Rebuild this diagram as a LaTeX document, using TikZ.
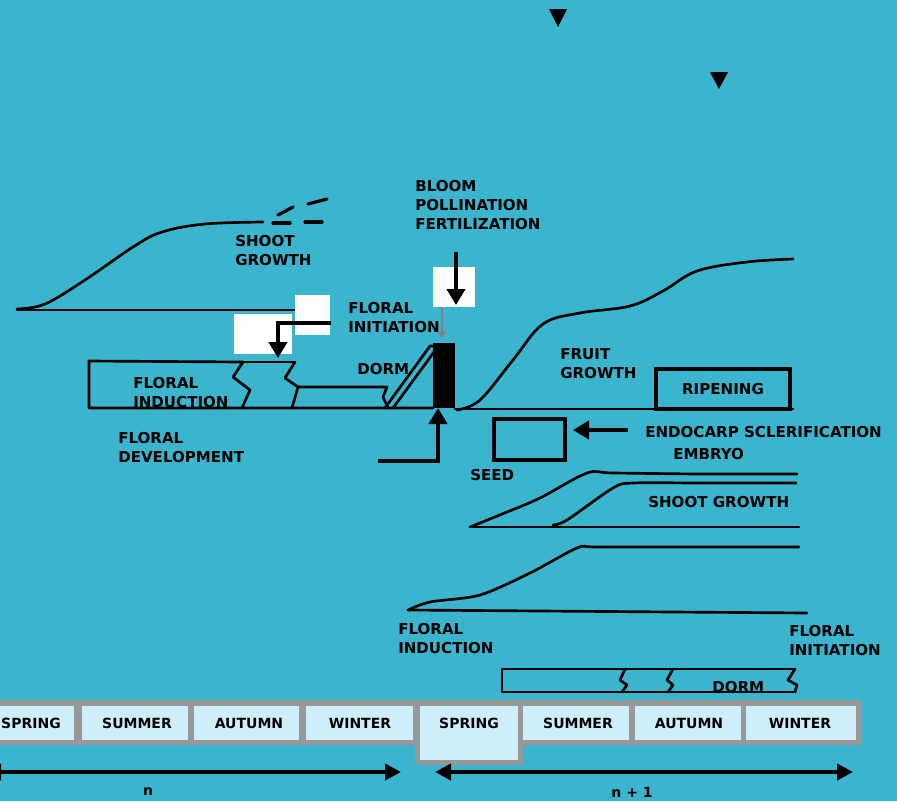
\documentclass[tikz,border=0pt]{standalone}
\usepackage{fontspec}
\setmainfont{DejaVu Sans}
\usetikzlibrary{arrows.meta}
\definecolor{bg}{RGB}{59,180,205}
\definecolor{cellc}{RGB}{206,238,252}
\definecolor{band}{RGB}{152,152,152}
\begin{document}
\begin{tikzpicture}[x=0.75pt,y=-0.75pt,
  lbl/.style={font=\fontsize{11.3}{14.2}\selectfont\bfseries, inner sep=0pt, anchor=north west, align=left},
  slbl/.style={font=\fontsize{10.5}{14.2}\selectfont\bfseries, inner sep=0pt, anchor=center},
  curve/.style={draw=black, line width=2pt, line cap=round, line join=round},
  boxline/.style={draw=black, line width=2.4pt},
  bigarrow/.style={draw=black, line width=3.2pt, -{Triangle[length=12pt,width=13.5pt]}},
  spanarrow/.style={draw=black, line width=3pt, {Triangle[length=12pt,width=12pt]}-{Triangle[length=12pt,width=12pt]}},
  whitebox/.style={fill=white, draw=none}]
\useasboundingbox (0,0) rectangle (897,801);
\clip (0,0) rectangle (897,801);
\fill[bg] (0,0) rectangle (897,801);

% top triangles
\fill[black] (549,9) -- (567,9) -- (558,27) -- cycle;
\fill[black] (710,72) -- (728,72) -- (719,89) -- cycle;

% ---------- year n : shoot growth ----------
\draw[curve] (17,310) -- (300,310);
\draw[curve] plot[smooth, tension=0.6] coordinates {(17,309) (45,304) (85,280) (133,247) (162,232) (205,224) (263,222)};
\draw[curve, line width=2.4pt] (273,223) -- (290,223);
\draw[curve, line width=2.4pt] (305,222) -- (322,222);
\draw[curve, line width=2.4pt] (278,215) -- (293,207);
\draw[curve, line width=2.4pt] (308,204) -- (327,199);

% white boxes
\fill[whitebox] (295,295) rectangle (330,335);
\fill[whitebox] (234,314) rectangle (292,354);
\fill[whitebox] (433,267) rectangle (475,307);

% floral induction / development band
\draw[curve] (243,362) -- (89,361) -- (89,408) -- (433,408);
\draw[curve] (243,362) -- (295,362);
\draw[curve] (243,362) -- (233,377) -- (250,390) -- (242,408);
\draw[curve] (295,362) -- (285,378) -- (298,387) -- (292,408);
\draw[curve] (298,387) -- (387,387) -- (383,397) -- (388,408);
% dormancy ramp
\draw[curve] (385,408) -- (430,346) -- (434,346);
\draw[curve] (393,408) -- (434,352);

% bloom bar
\fill[black] (433,343) rectangle (455,408);

% ---------- year n+1 : fruit ----------
\draw[curve] (455,409) -- (793,409);
\draw[curve] plot[smooth, tension=0.6] coordinates {(457,410) (480,400) (513,360) (543,324) (580,313) (630,306) (663,291) (697,271) (747,262) (793,259)};
\node[boxline, minimum width=100.5pt, minimum height=30pt, inner sep=0pt,
      font=\fontsize{11.3}{14.2}\selectfont\bfseries] (ripe) at (723,389) {RIPENING};
\draw[boxline] (494,419) rectangle (565,460);

% ---------- year n+1 : shoot growth ----------
\draw[curve] (470,527) -- (799,527);
\draw[curve] plot[smooth, tension=0.5] coordinates {(470,527) (507,512) (540,498) (587,473) (613,473) (700,474) (797,474)};
\draw[curve] plot[smooth, tension=0.5] coordinates {(553,525) (567,520) (613,488) (633,483) (700,483) (796,483)};

% ---------- year n+1 : floral ----------
\draw[curve] (408,610) -- (807,613);
\draw[curve] plot[smooth, tension=0.5] coordinates {(408,610) (430,602) (480,595) (530,573) (577,548) (597,547) (700,547) (799,547)};

% dorm band n+1
\draw[curve] (625,669) -- (502,669) -- (502,692) -- (622,692);
\draw[curve] (625,669) -- (795,669);
\draw[curve] (622,692) -- (795,692);
\draw[curve] (625,669) -- (620,680) -- (627,685) -- (622,692);
\draw[curve] (673,669) -- (667,680) -- (673,685) -- (668,692);
\draw[curve] (795,669) -- (788,680) -- (797,685) -- (795,692);

% ---------- arrows ----------
\coordinate (fiA) at (331,323);
\coordinate (fiB) at (278,323);
\coordinate (fiC) at (278,358);
\draw[bigarrow] (fiA) -- (fiB) -- (fiC);

\coordinate (blA) at (456,252);
\coordinate (blB) at (456,305);
\draw[bigarrow] (blA) -- (blB);

\coordinate (gA) at (442,307);
\coordinate (gB) at (442,338);
\draw[draw=gray, line width=1pt, -{Triangle[length=5pt,width=6pt]}] (gA) -- (gB);

\coordinate (lbA) at (378,461);
\coordinate (lbB) at (438,461);
\coordinate (lbC) at (438,408);
\draw[bigarrow] (lbA) -- (lbB) -- (lbC);

\coordinate (enA) at (628,430);
\coordinate (enB) at (573,430);
\draw[bigarrow] (enA) -- (enB);

% ---------- labels ----------
\node[lbl] (bloom) at (415,180) {BLOOM\\POLLINATION\\FERTILIZATION};
\node[lbl] (shootA) at (235,235) {SHOOT\\GROWTH};
\node[lbl] (finit) at (348,302) {FLORAL\\INITIATION};
\node[lbl] (dorm) at (357,363) {DORM};
\node[lbl] (find) at (133,377) {FLORAL\\INDUCTION};
\node[lbl] (fdev) at (118,432) {FLORAL\\DEVELOPMENT};
\node[lbl] (fruit) at (560,348) {FRUIT\\GROWTH};
\node[lbl] (endo) at (645,426) {ENDOCARP SCLERIFICATION};
\node[lbl] (embryo) at (673,448) {EMBRYO};
\node[lbl] (seed) at (470,469) {SEED};
\node[lbl] (shootB) at (648,496) {SHOOT GROWTH};
\node[lbl] (findB) at (398,623) {FLORAL\\INDUCTION};
\node[lbl] (finitB) at (789,625) {FLORAL\\INITIATION};
\node[lbl] (dormB) at (712,681) {DORM};

% ---------- season bar ----------
\fill[band] (0,700) rectangle (862,745);
\fill[band] (415,700) rectangle (523,765);
\fill[cellc] (-40,706) rectangle (74,740);
\fill[cellc] (82,706) rectangle (188,740);
\fill[cellc] (194,706) rectangle (299,740);
\fill[cellc] (306,706) rectangle (413,740);
\fill[cellc] (420,706) rectangle (518,760);
\fill[cellc] (523,706) rectangle (629,740);
\fill[cellc] (635,706) rectangle (741,740);
\fill[cellc] (746,706) rectangle (856,740);
\node[slbl] (s1) at (31,723) {SPRING};
\node[slbl] (s2) at (137,723) {SUMMER};
\node[slbl] (s3) at (249,723) {AUTUMN};
\node[slbl] (s4) at (360,723) {WINTER};
\node[slbl] (s5) at (469,723) {SPRING};
\node[slbl] (s6) at (578,723) {SUMMER};
\node[slbl] (s7) at (689,723) {AUTUMN};
\node[slbl] (s8) at (800,723) {WINTER};

% year spans
\coordinate (nA) at (-15,772);
\coordinate (nB) at (401,772);
\coordinate (mA) at (435,772);
\coordinate (mB) at (853,772);
\draw[spanarrow] (nA) -- (nB);
\draw[spanarrow] (mA) -- (mB);
\node[slbl] (ny) at (148,792) {n};
\node[slbl] (my) at (632,792) {n + 1};
\end{tikzpicture}
\end{document}
